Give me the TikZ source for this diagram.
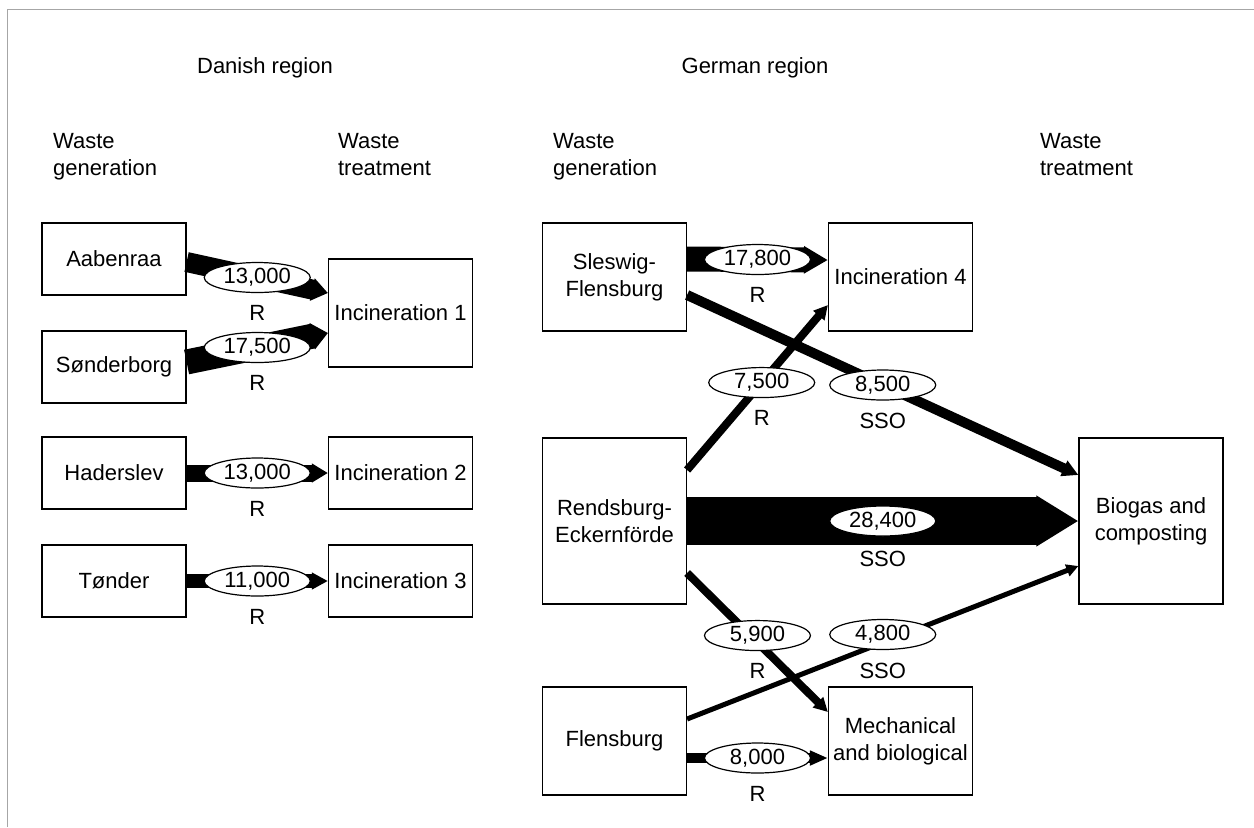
\documentclass[tikz,border=0pt]{standalone}
\usepackage{fontspec}
\setmainfont{Liberation Sans}
\usetikzlibrary{arrows.meta,shapes.geometric,calc}

\begin{document}
\begin{tikzpicture}[x=0.5pt,y=-0.5pt,
  every node/.style={font=\fontsize{11}{13.5}\selectfont},
  every label/.style={outer sep=0pt, line width=0.6pt},
  site/.style={draw, line width=0.6pt, fill=white, align=center, inner sep=1pt,
    minimum width=72pt, minimum height=#1},
  heading/.style={align=left, anchor=north west},
  amount/.style={ellipse, draw, line width=0.6pt, fill=white, inner sep=0pt,
    minimum width=53pt, minimum height=15pt},
  flow/.style n args={3}{line width=#1, -{Triangle[length=#2,width=#3]}}]
\useasboundingbox (0,0) rectangle (1254,827);
\draw[gray!70, line width=0.8pt] (7.5,827) -- (7.5,9.5) -- (1254,9.5);

% headings
\node (danish) at (265,68) {Danish region};
\node (german) at (755,68) {German region};
\node[heading] (dkgen) at (46,126) {Waste\\generation};
\node[heading] (dktreat) at (331,126) {Waste\\treatment};
\node[heading] (degen) at (546,126) {Waste\\generation};
\node[heading] (detreat) at (1033,126) {Waste\\treatment};

% Danish region
\node[site=36pt] (aab) at (114,259) {Aabenraa};
\node[site=36pt] (son) at (114,367) {Sønderborg};
\node[site=54pt] (inc1) at (400.5,313) {Incineration 1};
\node[site=36pt] (had) at (114,473) {Haderslev};
\node[site=36pt] (inc2) at (400.5,473) {Incineration 2};
\node[site=36pt] (ton) at (114,581) {Tønder};
\node[site=36pt] (inc3) at (400.5,581) {Incineration 3};

% German region
\node[site=54pt] (sle) at (614.5,277) {Sleswig-\\Flensburg};
\node[site=54pt] (inc4) at (900.5,277) {Incineration 4};
\node[site=83pt] (ren) at (614.5,521) {Rendsburg-\\Eckernförde};
\node[site=83pt] (bio) at (1151,521) {Biogas and\\composting};
\node[site=54pt] (fle) at (614.5,741) {Flensburg};
\node[site=54pt] (mech) at (900.5,741) {Mechanical\\and biological};

% flows
\draw[flow={10pt}{8pt}{11pt}] ($(aab.east)+(0,3)$) -- node[amount, label={[label distance=3pt]below:R}] (f1) {13,000} ($(inc1.west)+(0,-20)$);
\draw[flow={12.5pt}{8pt}{13pt}] ($(son.east)+(0,-5)$) -- node[amount, label={[label distance=3pt]below:R}] (f2) {17,500} ($(inc1.west)+(0,20)$);
\draw[flow={8.5pt}{8pt}{9pt}] (had) -- node[amount, label={[label distance=3pt]below:R}] (f3) {13,000} (inc2);
\draw[flow={7pt}{8pt}{8pt}] (ton) -- node[amount, label={[label distance=3pt]below:R}] (f4) {11,000} (inc3);

\draw[flow={4pt}{7pt}{7pt}] ($(ren.east)+(0,-51)$) -- node[amount, pos=0.53, label={[label distance=3pt]below:R}] (f6) {7,500} ($(inc4.west)+(0,28)$);
\draw[flow={5pt}{8pt}{8pt}] ($(sle.east)+(0,18)$) -- node[amount, label={[label distance=3pt]below:SSO}] (f7) {8,500} ($(bio.west)+(0,-46)$);
\draw[flow={12.5pt}{12pt}{13pt}] ($(sle.east)+(0,-18)$) -- node[amount, label={[label distance=3pt]below:R}] (f5) {17,800} ($(inc4.west)+(0,-17)$);
\draw[flow={24pt}{21pt}{24pt}] (ren) -- node[amount, label={[label distance=4pt]below:SSO}] (f8) {28,400} (bio);
\draw[flow={2.5pt}{6pt}{6pt}] ($(fle.east)+(0,-22)$) -- node[amount, yshift=4pt, label={[label distance=3pt]below:SSO}] (f10) {4,800} ($(bio.west)+(0,45)$);
\draw[flow={4pt}{7pt}{7pt}] ($(ren.east)+(0,52)$) -- node[amount, pos=0.45, xshift=3.5pt, label={[label distance=3pt]below:R}] (f9) {5,900} ($(mech.west)+(0,-29)$);
\draw[flow={5pt}{9pt}{7pt}] ($(fle.east)+(0,17)$) -- node[amount, label={[label distance=3pt]below:R}] (f11) {8,000} ($(mech.west)+(0,17)$);
\end{tikzpicture}
\end{document}
